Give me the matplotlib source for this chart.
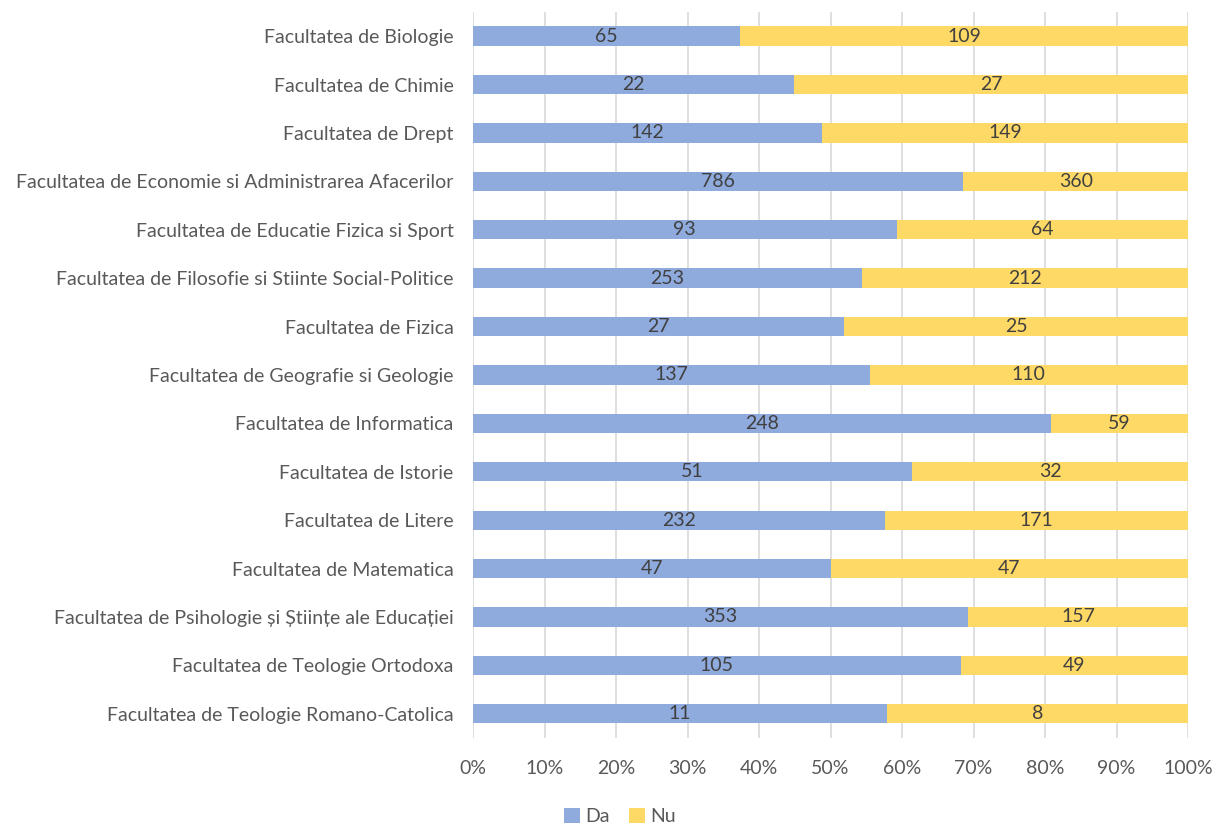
import matplotlib
matplotlib.use("Agg")
import matplotlib.pyplot as plt
import numpy as np

# Survey answers per faculty
faculties = [
    "Facultatea de Biologie",
    "Facultatea de Chimie",
    "Facultatea de Drept",
    "Facultatea de Economie si Administrarea Afacerilor",
    "Facultatea de Educatie Fizica si Sport",
    "Facultatea de Filosofie si Stiinte Social-Politice",
    "Facultatea de Fizica",
    "Facultatea de Geografie si Geologie",
    "Facultatea de Informatica",
    "Facultatea de Istorie",
    "Facultatea de Litere",
    "Facultatea de Matematica",
    "Facultatea de Psihologie și Științe ale Educației",
    "Facultatea de Teologie Ortodoxa",
    "Facultatea de Teologie Romano-Catolica",
]
da = [65, 22, 142, 786, 93, 253, 27, 137, 248, 51, 232, 47, 353, 105, 11]
nu = [109, 27, 149, 360, 64, 212, 25, 110, 59, 32, 171, 47, 157, 49, 8]
series_names = ["Da", "Nu"]

plt.rcParams["font.family"] = ["Lato", "DejaVu Sans"]
text_color = "#595959"
colors = ["#8FAADC", "#FFD966"]
fs = 14

da_arr = np.array(da, dtype=float)
nu_arr = np.array(nu, dtype=float)
total = da_arr + nu_arr
da_pct = da_arr / total
nu_pct = nu_arr / total

fig = plt.figure(figsize=(12.16, 8.27), dpi=100)
ax = fig.add_axes([0.389, 0.1076, 0.588, 0.878])

y = np.arange(len(faculties))
bar_h = 0.4
b1 = ax.barh(y, da_pct, height=bar_h, color=colors[0], label=series_names[0], zorder=3)
b2 = ax.barh(y, nu_pct, left=da_pct, height=bar_h, color=colors[1], label=series_names[1], zorder=3)

for i in range(len(faculties)):
    ax.text(da_pct[i] / 2, y[i], str(da[i]), ha="center", va="center",
            fontsize=fs, color="#404040", zorder=4)
    ax.text(da_pct[i] + nu_pct[i] / 2, y[i], str(nu[i]), ha="center", va="center",
            fontsize=fs, color="#404040", zorder=4)

ax.set_xlim(0, 1)
ax.set_ylim(len(faculties) - 0.5, -0.5)
ax.set_xticks(np.linspace(0, 1, 11))
ax.set_xticklabels([f"{int(v)}%" for v in np.linspace(0, 100, 11)])
ax.set_yticks(y)
ax.set_yticklabels(faculties)
ax.tick_params(axis="both", length=0, labelsize=fs, colors=text_color)
ax.tick_params(axis="x", pad=16)
ax.tick_params(axis="y", pad=14)
ax.xaxis.grid(True, color="#D9D9D9", linewidth=1.2, zorder=0)
for s in ax.spines.values():
    s.set_visible(False)

fig.legend(handles=[b1, b2], labels=series_names, loc="center",
           bbox_to_anchor=(0.51, 0.013), ncol=2, frameon=False,
           fontsize=fs, labelcolor=text_color, handlelength=0.8,
           handleheight=0.8, handletextpad=0.3, columnspacing=1.0)

fig.savefig("out.png", dpi=100)
